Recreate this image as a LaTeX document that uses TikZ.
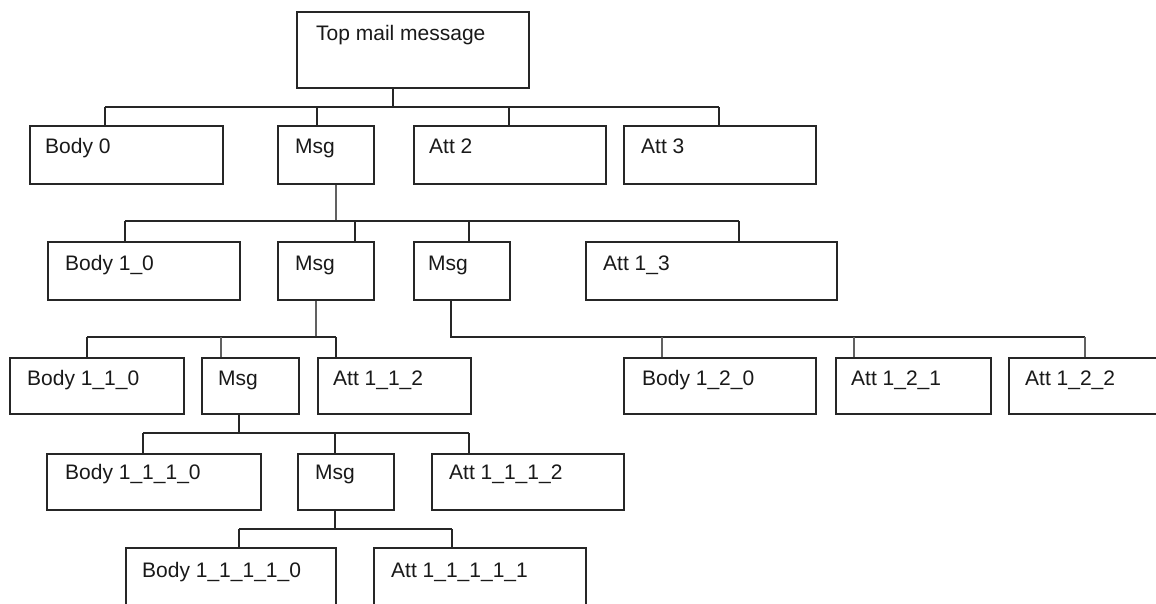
\documentclass[tikz,border=0pt]{standalone}
\usepackage{fontspec}
\setmainfont{Liberation Sans}
\tikzset{
  box/.style={draw=black!85, line width=1.6pt, inner sep=0pt, anchor=north west, fill=white},
  lbl/.style={anchor=base west, inner sep=0pt, font=\fontsize{21}{24}\selectfont, text=black!90},
  wire/.style={draw=black!85, line width=1.6pt},
  gwire/.style={draw=black!62, line width=2pt}
}
\begin{document}
\begin{tikzpicture}[x=1pt, y=-1pt]
\useasboundingbox (0,0) rectangle (1156,603);
\clip (0,0) rectangle (1156,603);
% ---------- junction coordinates ----------
\coordinate (j0) at (393,107);
\coordinate (d0a) at (105,107);
\coordinate (d0b) at (317,107);
\coordinate (d0c) at (509,107);
\coordinate (d0d) at (719,107);
\coordinate (j1) at (336,221);
\coordinate (d1a) at (125,221);
\coordinate (d1b) at (355,221);
\coordinate (d1c) at (469,221);
\coordinate (d1d) at (739,221);
\coordinate (j2) at (316,337);
\coordinate (d2a) at (87,337);
\coordinate (d2b) at (221,337);
\coordinate (d2c) at (336,337);
\coordinate (j3) at (451,337);
\coordinate (d3a) at (662,337);
\coordinate (d3b) at (854,337);
\coordinate (d3c) at (1085,337);
\coordinate (j4) at (239,433);
\coordinate (d4a) at (143,433);
\coordinate (d4b) at (335,433);
\coordinate (d4c) at (469,433);
\coordinate (j5) at (335,529);
\coordinate (d5a) at (239,529);
\coordinate (d5b) at (452,529);

% ---------- boxes ----------
\node[box, minimum width=232pt, minimum height=76pt] (top) at (296,11) {};
\node[box, minimum width=193pt, minimum height=58pt] (b0) at (29,125) {};
\node[box, minimum width=96pt, minimum height=58pt] (m1) at (277,125) {};
\node[box, minimum width=192pt, minimum height=58pt] (a2) at (413,125) {};
\node[box, minimum width=192pt, minimum height=58pt] (a3) at (623,125) {};

\node[box, minimum width=192pt, minimum height=58pt] (b10) at (47,241) {};
\node[box, minimum width=96pt, minimum height=58pt] (m11) at (277,241) {};
\node[box, minimum width=96pt, minimum height=58pt] (m12) at (413,241) {};
\node[box, minimum width=251pt, minimum height=58pt] (a13) at (585,241) {};

\node[box, minimum width=174pt, minimum height=56pt] (b110) at (9,357) {};
\node[box, minimum width=97pt, minimum height=56pt] (m111) at (201,357) {};
\node[box, minimum width=153pt, minimum height=56pt] (a112) at (317,357) {};
\node[box, minimum width=192pt, minimum height=56pt] (b120) at (623,357) {};
\node[box, minimum width=155pt, minimum height=56pt] (a121) at (835,357) {};
\node[box, minimum width=170pt, minimum height=56pt] (a122) at (1008,357) {};

\node[box, minimum width=214pt, minimum height=56pt] (b1110) at (46,453) {};
\node[box, minimum width=96pt, minimum height=56pt] (m1111) at (297,453) {};
\node[box, minimum width=192pt, minimum height=56pt] (a1112) at (431,453) {};

\node[box, minimum width=210pt, minimum height=62pt] (b11110) at (125,547) {};
\node[box, minimum width=212pt, minimum height=62pt] (a11111) at (373,547) {};

% ---------- wires ----------
\draw[wire] (top.south -| j0) -- (j0);
\draw[wire] (d0a) -- (d0d);
\draw[wire] (d0a) -- (b0.north -| d0a);
\draw[wire] (d0b) -- (m1.north -| d0b);
\draw[wire] (d0c) -- (a2.north -| d0c);
\draw[wire] (d0d) -- (a3.north -| d0d);

\draw[gwire] (m1.south -| j1) -- (j1);
\draw[wire] (d1a) -- (d1d);
\draw[wire] (d1a) -- (b10.north -| d1a);
\draw[wire] (d1b) -- (m11.north -| d1b);
\draw[wire] (d1c) -- (m12.north -| d1c);
\draw[wire] (d1d) -- (a13.north -| d1d);

\draw[gwire] (m11.south -| j2) -- (j2);
\draw[wire] (d2a) -- (d2c);
\draw[wire] (d2a) -- (b110.north -| d2a);
\draw[gwire] (d2b) -- (m111.north -| d2b);
\draw[wire] (d2c) -- (a112.north -| d2c);

\draw[wire] (m12.south -| j3) -- (j3) -- (d3c);
\draw[gwire] (d3a) -- (b120.north -| d3a);
\draw[gwire] (d3b) -- (a121.north -| d3b);
\draw[gwire] (d3c) -- (a122.north -| d3c);

\draw[wire] (m111.south -| j4) -- (j4);
\draw[wire] (d4a) -- (d4c);
\draw[wire] (d4a) -- (b1110.north -| d4a);
\draw[wire] (d4b) -- (m1111.north -| d4b);
\draw[wire] (d4c) -- (a1112.north -| d4c);

\draw[wire] (m1111.south -| j5) -- (j5);
\draw[wire] (d5a) -- (d5b);
\draw[wire] (d5a) -- (b11110.north -| d5a);
\draw[wire] (d5b) -- (a11111.north -| d5b);

% ---------- texts ----------
\node[lbl] (t-top) at (316,40) {Top mail message};
\node[lbl] (t-b0) at (45,153) {Body 0};
\node[lbl] (t-m1) at (295,153) {Msg};
\node[lbl] (t-a2) at (429,153) {Att 2};
\node[lbl] (t-a3) at (641,153) {Att 3};

\node[lbl] (t-b10) at (65,270) {Body 1\_0};
\node[lbl] (t-m11) at (295,270) {Msg};
\node[lbl] (t-m12) at (428,270) {Msg};
\node[lbl] (t-a13) at (603,270) {Att 1\_3};

\node[lbl] (t-b110) at (27,385) {Body 1\_1\_0};
\node[lbl] (t-m111) at (218,385) {Msg};
\node[lbl] (t-a112) at (333,385) {Att 1\_1\_2};
\node[lbl] (t-b120) at (642,385) {Body 1\_2\_0};
\node[lbl] (t-a121) at (851,385) {Att 1\_2\_1};
\node[lbl] (t-a122) at (1025,385) {Att 1\_2\_2};

\node[lbl] (t-b1110) at (65,479) {Body 1\_1\_1\_0};
\node[lbl] (t-m1111) at (315,479) {Msg};
\node[lbl] (t-a1112) at (449,479) {Att 1\_1\_1\_2};

\node[lbl] (t-b11110) at (142,577) {Body 1\_1\_1\_1\_0};
\node[lbl] (t-a11111) at (391,577) {Att 1\_1\_1\_1\_1};
\end{tikzpicture}
\end{document}
